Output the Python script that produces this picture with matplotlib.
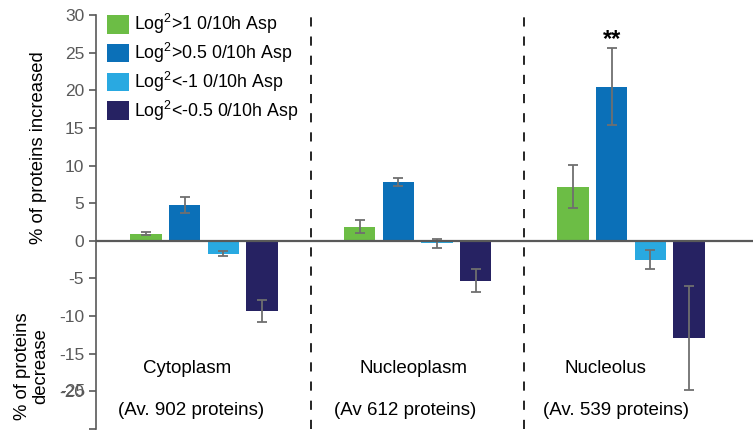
import numpy as np
import matplotlib.pyplot as plt

plt.rcParams['font.family'] = ['Liberation Sans', 'DejaVu Sans']
plt.rcParams['mathtext.fontset'] = 'custom'
plt.rcParams['mathtext.rm'] = 'Liberation Sans'
plt.rcParams['mathtext.default'] = 'regular'

# data
groups = ["Cytoplasm", "Nucleoplasm", "Nucleolus"]
group_notes = ["(Av. 902 proteins)", "(Av 612 proteins)", "(Av. 539 proteins)"]
series = ["Log$^2$>1 0/10h Asp", "Log$^2$>0.5 0/10h Asp",
          "Log$^2$<-1 0/10h Asp", "Log$^2$<-0.5 0/10h Asp"]
values = [
    [0.95, 1.9, 7.2],
    [4.8, 7.85, 20.5],
    [-1.7, -0.35, -2.5],
    [-9.3, -5.3, -12.9],
]
errors = [
    [0.2, 0.8, 2.85],
    [1.05, 0.55, 5.15],
    [0.3, 0.65, 1.25],
    [1.5, 1.55, 6.95],
]
colors = ["#6cbd45", "#0b70b8", "#29a9e1", "#262262"]
yticks = [30, 25, 20, 15, 10, 5, 0, -5, -10, -15, -20, -25]
ytick_labels = ["30", "25", "20", "15", "10", "5", "0", "-5", "-10", "-15", "-20", ""]

fig = plt.figure(figsize=(7.53, 4.32), dpi=100)
ax = fig.add_axes([96 / 753, 3 / 432, 657 / 753, 414 / 432])

x = np.arange(len(groups))
step = 0.181
width = 0.147
for k in range(len(series)):
    ax.bar(x + (k - 1.5) * step, values[k], width, color=colors[k],
           label=series[k], zorder=2)
    ax.errorbar(x + (k - 1.5) * step, values[k], yerr=errors[k], fmt="none",
                ecolor="#6f6f6f", elinewidth=1.3, capsize=3.5, capthick=1.3,
                zorder=3)

##零线和分隔虚线##
ax.axhline(0, color="#595959", lw=1.6, zorder=4)
for xd in [0.5, 1.5]:
    ax.axvline(xd, color="black", lw=1.2, dashes=(5.5, 6), zorder=1)

ax.set_xlim(-0.506, 2.571)
ax.set_ylim(-25, 30)
ax.set_yticks(yticks)
ax.set_yticklabels(ytick_labels)
ax.tick_params(axis="y", colors="#595959", labelsize=12.5, length=5,
               width=1.2, direction="out")
ax.set_xticks([])
for s in ["top", "right", "bottom"]:
    ax.spines[s].set_visible(False)
ax.spines["left"].set_color("#595959")
ax.spines["left"].set_linewidth(1.2)

##"-25"标签和"-20"叠在一起##
ax.annotate("-25", xy=(0, -20), xycoords=ax.get_yaxis_transform(),
            xytext=(-7.5, 0), textcoords="offset points", ha="right",
            va="center", fontsize=12.5, color="#595959")

ax.text(x[2] - 0.5 * step, 26.8, "**", ha="center", va="center",
        fontsize=17, fontweight="bold")

##分组名称##
name_dx = [-0.08, -0.02, -0.12]
note_dx = [-0.06, -0.06, -0.07]
for i in range(len(groups)):
    ax.text(x[i] + name_dx[i], -16.9, groups[i], ha="center",
            va="center", fontsize=13.5)
    ax.text(x[i] + note_dx[i], -22.5, group_notes[i], ha="center",
            va="center", fontsize=13.5)

fig.text(39 / 753, 1 - 148 / 432, "% of proteins increased", rotation=90,
         ha="center", va="center", fontsize=13.3)
fig.text(32 / 753, 1 - 366 / 432, "% of proteins\ndecrease", rotation=90,
         ha="center", va="center", fontsize=13.3, linespacing=1.1)

ax.legend(loc="upper left", bbox_to_anchor=(107 / 753, 1 - 12 / 432),
          bbox_transform=fig.transFigure, frameon=False, fontsize=12.8,
          handlelength=1.25, handleheight=1.25, handletextpad=0.25,
          labelspacing=0.27, borderpad=0, borderaxespad=0)

plt.savefig("out.png", dpi=100)
